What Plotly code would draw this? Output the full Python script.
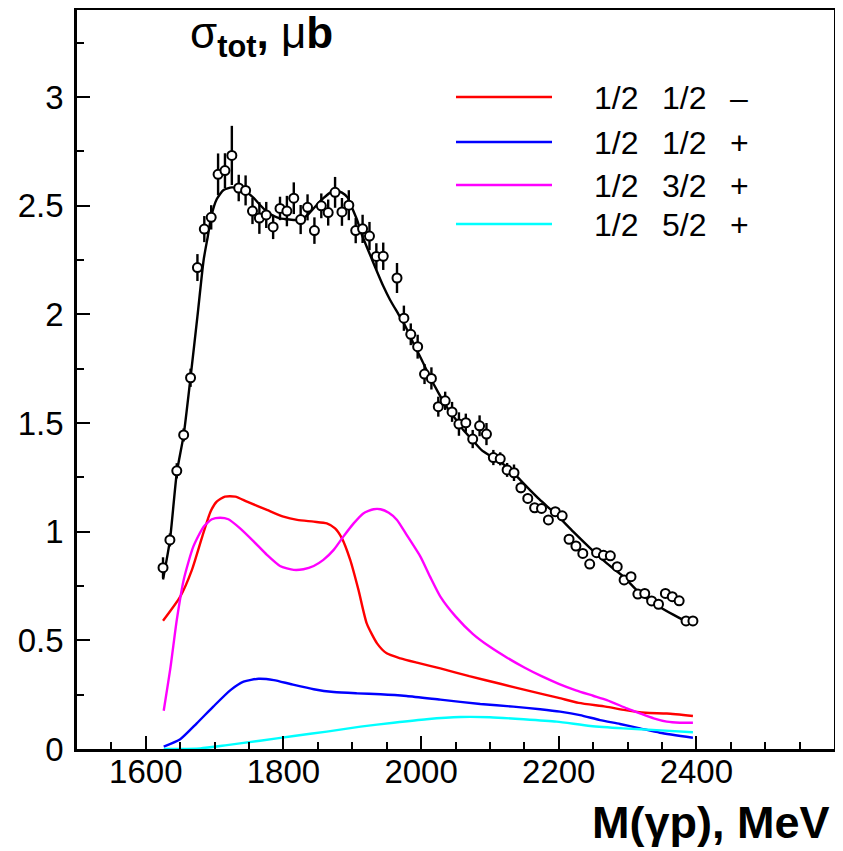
import plotly.graph_objects as go

# ---- data points (measured total cross section) ----
data_m = [1625, 1635, 1645, 1655, 1665, 1675, 1685, 1695, 1705, 1715, 1725, 1735, 1745, 1755,
          1765, 1775, 1785, 1795, 1805, 1815, 1825, 1835, 1845, 1855, 1865, 1875, 1885, 1895,
          1905, 1915, 1925, 1935, 1945, 1965, 1975, 1985, 1995, 2005, 2015, 2025, 2035, 2045,
          2055, 2065, 2075, 2085, 2095, 2105, 2115, 2125, 2135, 2145, 2155, 2165, 2175, 2185,
          2195, 2205, 2215, 2225, 2235, 2245, 2255, 2265, 2275, 2285, 2295, 2305, 2315, 2325,
          2335, 2345, 2355, 2365, 2375, 2385, 2395]
data_sigma = [0.834, 0.962, 1.280, 1.445, 1.708, 2.215, 2.392, 2.446, 2.644, 2.661, 2.731, 2.581,
              2.570, 2.475, 2.443, 2.457, 2.402, 2.487, 2.475, 2.534, 2.436, 2.492, 2.385, 2.499,
              2.468, 2.561, 2.471, 2.502, 2.385, 2.393, 2.360, 2.266, 2.267, 2.167, 1.982, 1.908,
              1.851, 1.725, 1.705, 1.575, 1.602, 1.551, 1.495, 1.501, 1.426, 1.487, 1.449, 1.341,
              1.335, 1.284, 1.271, 1.202, 1.153, 1.110, 1.107, 1.054, 1.092, 1.073, 0.965, 0.934,
              0.900, 0.851, 0.903, 0.891, 0.889, 0.839, 0.778, 0.793, 0.713, 0.716, 0.681, 0.666,
              0.716, 0.701, 0.682, 0.589, 0.589]
data_err = [0.048, 0.030, 0.035, 0.030, 0.042, 0.062, 0.060, 0.056, 0.096, 0.080, 0.136, 0.061,
            0.069, 0.060, 0.073, 0.060, 0.056, 0.054, 0.070, 0.073, 0.067, 0.060, 0.061, 0.057,
            0.060, 0.071, 0.064, 0.069, 0.058, 0.065, 0.065, 0.061, 0.063, 0.069, 0.058, 0.050,
            0.055, 0.046, 0.051, 0.046, 0.042, 0.046, 0.054, 0.042, 0.042, 0.048, 0.051, 0.035,
            0.030, 0.032, 0.038, 0.025, 0.022, 0.020, 0.020, 0.020, 0.020, 0.020, 0.020, 0.020,
            0.020, 0.020, 0.020, 0.020, 0.020, 0.020, 0.020, 0.020, 0.020, 0.020, 0.020, 0.020,
            0.020, 0.020, 0.020, 0.020, 0.020]

# ---- total fit ----
fit_m = [1625, 1635, 1645, 1655, 1665, 1675, 1684, 1690, 1695, 1703, 1713, 1725, 1735, 1747,
         1757, 1766, 1776, 1786, 1795, 1805, 1815, 1825, 1835, 1846, 1858, 1868, 1876, 1885,
         1893, 1899, 1907, 1914, 1924, 1933, 1945, 1955, 1967, 1977, 1989, 2001, 2013, 2025,
         2037, 2050, 2062, 2075, 2088, 2100, 2115, 2130, 2144, 2158, 2172, 2197, 2221, 2246,
         2270, 2294, 2318, 2342, 2367, 2386, 2395]
fit_sigma = [0.78, 0.96, 1.27, 1.445, 1.71, 1.99, 2.25, 2.357, 2.449, 2.529, 2.572, 2.584, 2.578,
             2.560, 2.534, 2.503, 2.472, 2.452, 2.441, 2.437, 2.434, 2.434, 2.457, 2.495, 2.534,
             2.560, 2.569, 2.560, 2.538, 2.495, 2.434, 2.365, 2.288, 2.219, 2.130, 2.066, 2.001,
             1.946, 1.866, 1.79, 1.71, 1.64, 1.575, 1.518, 1.465, 1.42, 1.375, 1.35, 1.32, 1.284,
             1.238, 1.192, 1.148, 1.077, 1.000, 0.923, 0.854, 0.793, 0.716, 0.663, 0.617, 0.586,
             0.58]

# ---- partial waves ----
red_m = [1625, 1650, 1667, 1682, 1694, 1703, 1715, 1730, 1747, 1776, 1800, 1820, 1844, 1863,
         1875, 1885, 1897, 1909, 1921, 1936, 1950, 1970, 1994, 2028, 2070, 2115, 2160, 2200,
         2229, 2268, 2297, 2326, 2357, 2395]
red_sigma = [0.590, 0.701, 0.824, 0.977, 1.092, 1.138, 1.161, 1.161, 1.138, 1.100, 1.069, 1.054,
             1.046, 1.038, 1.015, 0.969, 0.870, 0.732, 0.578, 0.486, 0.440, 0.417, 0.397, 0.371,
             0.335, 0.300, 0.265, 0.235, 0.212, 0.195, 0.179, 0.167, 0.163, 0.152]

blue_m = [1626, 1650, 1674, 1698, 1723, 1742, 1764, 1786, 1810, 1844, 1873, 1907, 1941, 1979,
          2028, 2086, 2134, 2173, 2202, 2231, 2260, 2289, 2318, 2347, 2395]
blue_sigma = [0.011, 0.045, 0.118, 0.195, 0.271, 0.310, 0.323, 0.317, 0.299, 0.275, 0.262,
              0.256, 0.252, 0.244, 0.227, 0.207, 0.195, 0.183, 0.172, 0.156, 0.133, 0.115,
              0.095, 0.075, 0.052]

mag_m = [1626, 1636, 1645, 1655, 1669, 1684, 1696, 1708, 1720, 1737, 1757, 1776, 1795, 1815,
         1829, 1844, 1858, 1873, 1887, 1902, 1916, 1931, 1941, 1953, 1965, 1979, 1999, 2013,
         2028, 2050, 2075, 2100, 2125, 2150, 2175, 2200, 2225, 2250, 2270, 2299, 2318, 2338,
         2357, 2376, 2395]
mag_sigma = [0.176, 0.379, 0.594, 0.778, 0.931, 1.023, 1.057, 1.064, 1.057, 1.015, 0.954, 0.893,
             0.842, 0.824, 0.827, 0.842, 0.870, 0.916, 0.977, 1.038, 1.084, 1.103, 1.103, 1.087,
             1.054, 0.985, 0.885, 0.793, 0.701, 0.610, 0.530, 0.470, 0.420, 0.375, 0.335, 0.300,
             0.270, 0.245, 0.225, 0.187, 0.164, 0.141, 0.126, 0.121, 0.121]

cyan_m = [1626, 1650, 1679, 1718, 1766, 1815, 1863, 1912, 1960, 2008, 2057, 2100, 2149, 2197,
          2246, 2294, 2342, 2395]
cyan_sigma = [0.0, 0.0, 0.003, 0.018, 0.038, 0.060, 0.080, 0.103, 0.121, 0.137, 0.147, 0.146,
              0.137, 0.126, 0.106, 0.095, 0.087, 0.077]

legend_labels = [["1/2", "1/2", "\u2013"], ["1/2", "1/2", "+"], ["1/2", "3/2", "+"], ["1/2", "5/2", "+"]]
legend_colors = ["#FF0000", "#0000FF", "#FF00FF", "#00FFFF"]

x_ticks = [1600, 1800, 2000, 2200, 2400]
y_ticks = [0, 0.5, 1, 1.5, 2, 2.5, 3]
y_ticktext = ["0", "0.5", "1", "1.5", "2", "2.5", "3"]

FONT = "Liberation Sans, Arial, sans-serif"
LW = 2.4

fig = go.Figure()
for xs, ys, col in [(red_m, red_sigma, legend_colors[0]), (blue_m, blue_sigma, legend_colors[1]),
                    (mag_m, mag_sigma, legend_colors[2]), (cyan_m, cyan_sigma, legend_colors[3])]:
    fig.add_trace(go.Scatter(x=xs, y=ys, mode="lines", line=dict(color=col, width=LW, shape="spline", smoothing=0.6),
                             showlegend=False, hoverinfo="skip"))

fig.add_trace(go.Scatter(x=fit_m, y=fit_sigma, mode="lines",
                         line=dict(color="black", width=LW, shape="spline", smoothing=0.6),
                         showlegend=False))
fig.add_trace(go.Scatter(x=data_m, y=data_sigma, mode="markers",
                         marker=dict(symbol="circle", size=9, color="white", line=dict(color="black", width=2)),
                         error_y=dict(type="data", array=data_err, color="black", thickness=2.4, width=0),
                         showlegend=False))

# page offset (body margin of the html page)
OFF = 8
FW, FH = 843 - 2 * OFF + 8, 851 - 2 * OFF + 8
# plot area geometry in page pixels
L, R, T, B = 77, 834, 10, 749
W, H = R - L, B - T
def px(x):
    return (x - L) / W
def py(y):
    return (B - y) / H

# legend drawn manually
rows_y = [97, 142, 185, 224]
cols_x = [592, 660, 728]
for i, yy in enumerate(rows_y):
    fig.add_shape(type="line", xref="paper", yref="paper", x0=px(456), x1=px(552), y0=py(yy), y1=py(yy),
                  line=dict(color=legend_colors[i], width=LW))
    for j, xx in enumerate(cols_x):
        fig.add_annotation(xref="paper", yref="paper", x=px(xx), y=py(yy + 1), xanchor="left", yanchor="middle",
                           text=legend_labels[i][j], showarrow=False, font=dict(family=FONT, size=32, color="black"))

# axis titles
fig.add_annotation(xref="paper", yref="paper", x=px(188), y=py(6), xanchor="left", yanchor="top",
                   text="σ<sub><b>tot</b></sub><b>,</b> μ<b>b</b>", showarrow=False,
                   font=dict(family=FONT, size=44, color="black"))
fig.add_annotation(xref="paper", yref="paper", x=px(832), y=py(822), xanchor="right", yanchor="middle",
                   text="<b>M(γp), MeV</b>", showarrow=False,
                   font=dict(family=FONT, size=45, color="black"))

fig.update_layout(
    width=FW, height=FH,
    margin=dict(l=L - OFF, r=FW - (R - OFF), t=T - OFF, b=FH - (B - OFF), autoexpand=False),
    paper_bgcolor="white", plot_bgcolor="white",
    font=dict(family=FONT, color="black"),
)
fig.update_xaxes(range=[1500, 2600], showgrid=False, zeroline=False, automargin=False,
                 showline=True, linecolor="black", linewidth=2.5, mirror=True,
                 ticks="inside", ticklen=13, tickwidth=2.2, tickcolor="black",
                 tickmode="array", tickvals=x_ticks, ticktext=[str(v) for v in x_ticks],
                 tickfont=dict(family=FONT, size=33, color="black"), ticklabelstandoff=-8,
                 minor=dict(ticks="inside", ticklen=7, tickwidth=2.2, tickcolor="black", dtick=50, tick0=1500, showgrid=False))
fig.update_yaxes(range=[0, 3.4], showgrid=False, zeroline=False, automargin=False,
                 showline=True, linecolor="black", linewidth=2.5, mirror=True,
                 ticks="inside", ticklen=13, tickwidth=2.2, tickcolor="black",
                 tickmode="array", tickvals=y_ticks, ticktext=y_ticktext,
                 tickfont=dict(family=FONT, size=33, color="black"), ticklabelstandoff=4,
                 minor=dict(ticks="inside", ticklen=7, tickwidth=2.2, tickcolor="black", dtick=0.25, tick0=0, showgrid=False))

fig.write_html("out.html")
